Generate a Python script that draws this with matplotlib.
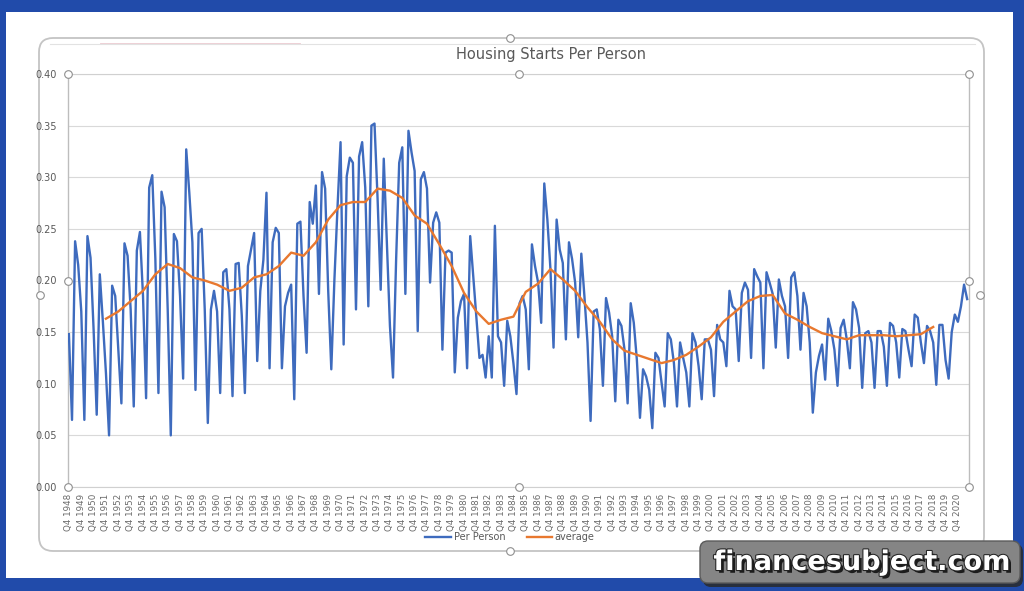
import matplotlib
matplotlib.use("Agg")
import matplotlib.pyplot as plt
import matplotlib.patheffects as pe
from matplotlib.patches import FancyBboxPatch, Rectangle

# quarterly values, Q4 1948 .. Q3 2021
per_person = [
    0.148,                          # 1948 Q4
    0.065, 0.238, 0.215, 0.170,     # 1949
    0.065, 0.243, 0.222, 0.152,     # 1950
    0.070, 0.206, 0.160, 0.110,     # 1951
    0.050, 0.195, 0.185, 0.133,     # 1952
    0.081, 0.236, 0.224, 0.172,     # 1953
    0.078, 0.229, 0.247, 0.185,     # 1954
    0.086, 0.290, 0.302, 0.221,     # 1955
    0.091, 0.286, 0.271, 0.172,     # 1956
    0.050, 0.245, 0.238, 0.185,     # 1957
    0.105, 0.327, 0.285, 0.237,     # 1958
    0.094, 0.246, 0.250, 0.172,     # 1959
    0.062, 0.172, 0.190, 0.170,     # 1960
    0.091, 0.208, 0.211, 0.172,     # 1961
    0.088, 0.216, 0.217, 0.166,     # 1962
    0.091, 0.214, 0.230, 0.246,     # 1963
    0.122, 0.190, 0.220, 0.285,     # 1964
    0.115, 0.237, 0.251, 0.246,     # 1965
    0.115, 0.175, 0.188, 0.196,     # 1966
    0.085, 0.255, 0.257, 0.185,     # 1967
    0.130, 0.276, 0.255, 0.292,     # 1968
    0.187, 0.305, 0.289, 0.190,     # 1969
    0.114, 0.200, 0.270, 0.334,     # 1970
    0.138, 0.301, 0.319, 0.314,     # 1971
    0.172, 0.320, 0.334, 0.290,     # 1972
    0.175, 0.350, 0.352, 0.279,     # 1973
    0.191, 0.318, 0.237, 0.156,     # 1974
    0.106, 0.220, 0.314, 0.329,     # 1975
    0.187, 0.345, 0.324, 0.306,     # 1976
    0.151, 0.298, 0.305, 0.289,     # 1977
    0.198, 0.256, 0.266, 0.256,     # 1978
    0.133, 0.227, 0.229, 0.227,     # 1979
    0.111, 0.164, 0.180, 0.187,     # 1980
    0.115, 0.243, 0.204, 0.166,     # 1981
    0.125, 0.128, 0.106, 0.146,     # 1982
    0.106, 0.253, 0.146, 0.140,     # 1983
    0.098, 0.161, 0.146, 0.120,     # 1984
    0.090, 0.178, 0.185, 0.172,     # 1985
    0.114, 0.235, 0.214, 0.198,     # 1986
    0.159, 0.294, 0.259, 0.211,     # 1987
    0.135, 0.259, 0.230, 0.217,     # 1988
    0.143, 0.237, 0.221, 0.198,     # 1989
    0.145, 0.226, 0.185, 0.140,     # 1990
    0.064, 0.170, 0.172, 0.153,     # 1991
    0.098, 0.183, 0.169, 0.146,     # 1992
    0.083, 0.162, 0.156, 0.133,     # 1993
    0.081, 0.178, 0.159, 0.123,     # 1994
    0.067, 0.114, 0.107, 0.094,     # 1995
    0.057, 0.130, 0.125, 0.101,     # 1996
    0.078, 0.149, 0.143, 0.120,     # 1997
    0.078, 0.140, 0.125, 0.111,     # 1998
    0.078, 0.149, 0.140, 0.117,     # 1999
    0.085, 0.143, 0.143, 0.133,     # 2000
    0.088, 0.157, 0.143, 0.140,     # 2001
    0.117, 0.190, 0.175, 0.172,     # 2002
    0.122, 0.188, 0.198, 0.191,     # 2003
    0.125, 0.211, 0.204, 0.198,     # 2004
    0.115, 0.208, 0.198, 0.187,     # 2005
    0.135, 0.201, 0.185, 0.175,     # 2006
    0.125, 0.203, 0.208, 0.185,     # 2007
    0.133, 0.188, 0.175, 0.140,     # 2008
    0.072, 0.111, 0.127, 0.138,     # 2009
    0.104, 0.163, 0.151, 0.133,     # 2010
    0.098, 0.154, 0.162, 0.143,     # 2011
    0.115, 0.179, 0.172, 0.154,     # 2012
    0.096, 0.149, 0.151, 0.140,     # 2013
    0.096, 0.151, 0.151, 0.136,     # 2014
    0.098, 0.159, 0.156, 0.140,     # 2015
    0.106, 0.153, 0.151, 0.133,     # 2016
    0.117, 0.167, 0.164, 0.140,     # 2017
    0.120, 0.156, 0.151, 0.140,     # 2018
    0.099, 0.157, 0.157, 0.123,     # 2019
    0.105, 0.150, 0.167, 0.160,     # 2020
    0.175, 0.196, 0.182,            # 2021
]

# moving average, one reading per year at its Q4
avg_years = list(range(1951, 2019))
avg_values = [
    0.163, 0.170, 0.180, 0.190, 0.206, 0.216, 0.212, 0.203, 0.200, 0.196,
    0.190, 0.193, 0.203, 0.206, 0.214, 0.227, 0.224, 0.237, 0.259, 0.273,
    0.276, 0.276, 0.289, 0.287, 0.280, 0.263, 0.255, 0.235, 0.214, 0.188,
    0.170, 0.158, 0.162, 0.165, 0.189, 0.197, 0.211, 0.201, 0.190, 0.174,
    0.160, 0.143, 0.132, 0.128, 0.124, 0.120, 0.123, 0.128, 0.136, 0.145,
    0.160, 0.170, 0.180, 0.185, 0.186, 0.168, 0.162, 0.155, 0.149, 0.146,
    0.143, 0.147, 0.147, 0.147, 0.146, 0.147, 0.148, 0.155,
]

tick_years = list(range(1948, 2021))
tick_labels = [f"Q4 {y}" for y in tick_years]
y_ticks = [0.00, 0.05, 0.10, 0.15, 0.20, 0.25, 0.30, 0.35, 0.40]

BLUE_FRAME = "#214BAA"
LINE_BLUE = "#3E6BBE"
LINE_ORANGE = "#E8782F"
GREY_TEXT = "#595959"
NARROW = ["Liberation Sans Narrow", "DejaVu Sans"]

fig = plt.figure(figsize=(10.24, 5.91), dpi=100)

# background layer in pixel units (screenshot frame, chart card, handles)
bg = fig.add_axes([0, 0, 1, 1], zorder=0)
bg.set_xlim(0, 1024)
bg.set_ylim(591, 0)
bg.set_axis_off()
bg.add_patch(Rectangle((0, 0), 1024, 591, fc=BLUE_FRAME, ec="none"))
bg.add_patch(Rectangle((6, 12), 1007, 566, fc="white", ec="none"))
bg.add_patch(FancyBboxPatch((39, 38), 945, 513,
                            boxstyle="round,pad=0,rounding_size=14",
                            fc="white", ec="#C4C4C4", lw=1.3))
bg.plot([50, 975], [44, 44], color="#E2E2E2", lw=0.8)
bg.plot([100, 300], [43, 43], color="#EBC9CF", lw=0.6)
for hx, hy in [(510, 38), (40, 295), (980, 295), (510, 551)]:
    bg.plot(hx, hy, "o", ms=5.5, mfc="white", mec="#8F8F8F", mew=0.8)

# watermark
bg.add_patch(FancyBboxPatch((703, 544), 320, 43,
                            boxstyle="round,pad=0,rounding_size=8",
                            fc="#2A2A2A", ec="none", alpha=0.85))
bg.add_patch(FancyBboxPatch((700, 541), 320, 42,
                            boxstyle="round,pad=0,rounding_size=8",
                            fc="#858585", ec="#5A5A5A", lw=1))
bg.text(862, 563, "financesubject.com", color="white", fontsize=19.5,
        fontweight="bold", ha="center", va="center",
        path_effects=[pe.withSimplePatchShadow(offset=(2, -2),
                                               shadow_rgbFace="#111111",
                                               alpha=0.9),
                      pe.withStroke(linewidth=1.5, foreground="#222222")])

# the chart itself
ax = fig.add_axes([68 / 1024, 1 - 487 / 591, 901 / 1024, 413 / 591], zorder=1)
ax.set_facecolor("none")
x = list(range(len(per_person)))
avg_x = [4 * (y - 1948) for y in avg_years]
ax.plot(x, per_person, color=LINE_BLUE, lw=1.7, label="Per Person",
        solid_joinstyle="round", zorder=3)
ax.plot(avg_x, avg_values, color=LINE_ORANGE, lw=1.7, label="average",
        solid_joinstyle="round", zorder=4)

ax.set_xlim(-0.3, 291.6)
ax.set_ylim(0, 0.40)
ax.set_yticks(y_ticks)
ax.set_yticklabels([f"{v:.2f}" for v in y_ticks], family=NARROW,
                   fontsize=7, color=GREY_TEXT)
ax.set_xticks([4 * (y - 1948) for y in tick_years])
ax.set_xticklabels(tick_labels, rotation=90, fontsize=6.3,
                   color="#6A6A6A")
ax.tick_params(length=0)
ax.tick_params(axis="y", pad=8)
ax.tick_params(axis="x", pad=5)
ax.grid(axis="y", color="#D9D9D9", lw=0.8)
ax.set_axisbelow(True)
for side in ["top", "bottom"]:
    ax.spines[side].set_color("#D0D0D0")
    ax.spines[side].set_linewidth(0.8)
for side in ["left", "right"]:
    ax.spines[side].set_color("#BDBDBD")
    ax.spines[side].set_linewidth(1.0)

for hx, hy in [(0, 1), (0.5, 1), (1, 1), (0, 0.5), (1, 0.5),
               (0, 0), (0.5, 0), (1, 0)]:
    ax.plot(hx, hy, "o", ms=5.5, mfc="white", mec="#8F8F8F", mew=0.8,
            transform=ax.transAxes, clip_on=False, zorder=6)

fig.text(551 / 1024, 1 - 55 / 591, "Housing Starts Per Person",
         ha="center", va="center", family=NARROW, fontsize=10.5,
         color=GREY_TEXT)

ax.legend(loc="center", bbox_to_anchor=(510 / 1024, 1 - 537 / 591),
          bbox_transform=fig.transFigure, ncol=2, frameon=False,
          prop={"family": NARROW, "size": 7}, labelcolor=GREY_TEXT,
          handlelength=2.6, handletextpad=0.3, columnspacing=2.2)

fig.savefig("out.png", dpi=100)
